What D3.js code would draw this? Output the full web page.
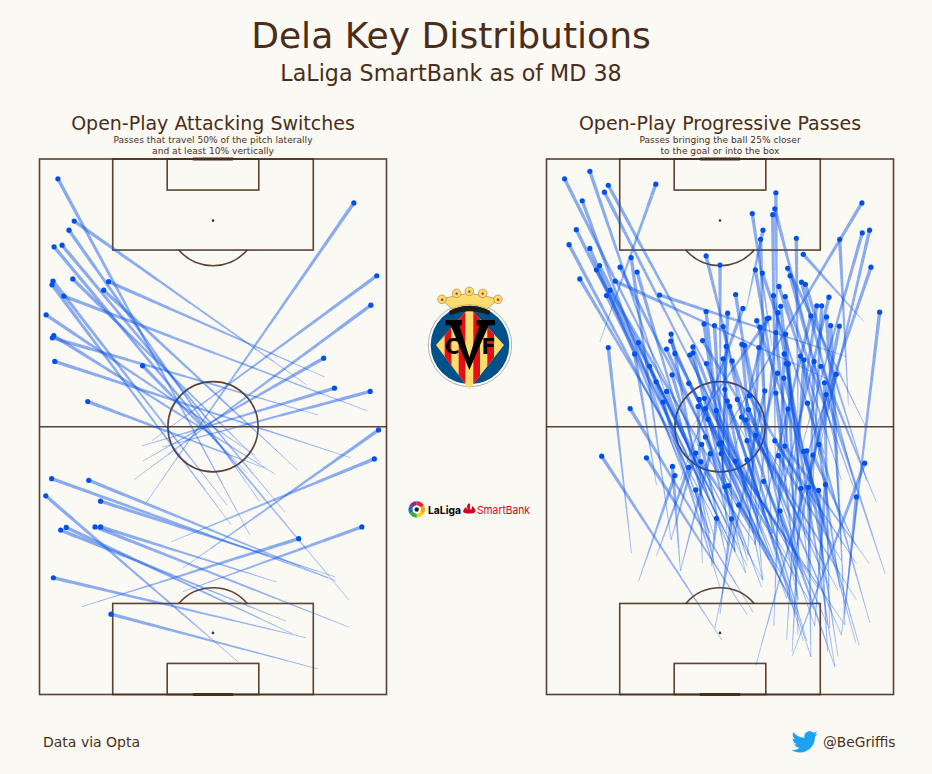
<!DOCTYPE html>
<html>
<head>
<meta charset="utf-8">
<script src="https://cdnjs.cloudflare.com/ajax/libs/d3/7.8.5/d3.min.js"></script>
<style>
html, body { margin: 0; padding: 0; background: #fbf9f4; }
svg { display: block; }
text { font-family: "DejaVu Sans", sans-serif; fill: #4a2e19; }
</style>
</head>
<body>
<svg id="svg"></svg>
<script>
// all passes are in Opta pitch units (0-100 across, 0-100 down from the top goal line)
// each row: dot x, dot y, tail x, tail y
var switchPasses = [
    [5.3,3.7,60.6,70.2],[10,11.6,77,42.2],[8.5,13.3,63.5,64],[4.2,16.4,89.1,82.3],[6.5,16.1,70.7,65.9],
    [3.9,22.8,54,64.6],[3.6,23.5,55.2,68.3],[9.6,22.4,63.8,56.8],[19.9,22.9,82.2,40.7],[18.5,24.5,74.4,58.1],
    [7,25.6,94.3,47],[1.9,29.1,62.1,55.3],[4.1,33,67.8,58.8],[3.7,33.4,80.2,47.8],[4.4,37.8,89.7,55.8],
    [29.7,38.6,59.8,58.6],[13.9,45.3,64.9,57.7],
    [90.6,8.2,30.7,64.2],[97.2,21.8,32.4,52.6],[95.5,27.3,27.2,59.9],[81.9,37.2,29.8,56.4],[85,42.8,29.5,53.6],
    [95.3,43.4,35.3,53.8],[97.7,50.6,41.3,76.4],[96.5,56,37.9,71.5],[92.9,68.7,41.3,80.8],[74.7,70.9,12.2,83.6],
    [3.5,59.7,83.1,78.2],[14.2,60,85.4,78.8],[17.6,63.9,85.1,78],[1.8,62.9,57.2,93.9],[6.1,69.3,71,86.3],
    [7.7,68.8,73,88.7],[16,68.7,89.1,87.4],[17.6,68.7,68.4,79],[4,78.2,76.8,89.4],[20.6,85,80.2,95.2]
];

var progressivePasses = [
    [5.2,3.7,44.9,55],[12.5,2.3,37,49],[17.8,4.9,62.3,58],[16.7,6.2,57.4,58],[10.3,7.8,40,60],
    [31.5,4.7,15.4,34.1],[8.6,13.2,54.3,73.3],[6.5,16,52.4,72.1],[12.5,16.7,47.1,69.9],[9.6,22.4,44,60],
    [15.3,19.9,57.8,76],[14.4,20.7,62.3,78.6],[21.2,20.2,64.2,74.9],[24.4,18.4,35.9,71.1],[26.1,21.1,48.5,71],
    [19.8,22.8,80.7,41],[18.3,24.5,59.6,70],[17.3,25.5,57.4,77.3],[32.6,25.4,86.5,36.9],[17.8,35.2,24.5,73.6],
    [26.5,34.3,47,62],[35.9,32.7,48.3,75.5],[35.8,34,52,57],[34.6,35.5,55,65],[42.2,35.1,62,68],
    [45,33.9,69.2,60],[46,18.1,58,50],[50,19.8,50.1,47],[54.5,25.3,63,60],[46,28.5,52,65],
    [52.2,28.8,50.5,62],[56.6,27.9,38.6,60],[45.4,30.8,54.3,73.3],[48.4,31.1,52,70],[50.9,31.3,62.3,66],
    [59.3,10.2,65,35],[62.4,13.3,57.6,27.9],[61.7,15,63,48],[60.2,20.7,70,58],[62.2,21.3,80,55],
    [66.1,6.3,66.5,40],[65.8,9.3,82,50],[65.2,10.4,66,60],[72,14.8,72.5,50],[69.5,20.4,92,50],
    [70.2,21.8,84,55],[67,23.8,85,60],[65.4,25.5,77,65],[68.8,25.7,90,64],[67.5,27.5,75,70],
    [66.7,28.7,60,72],[60.6,30.2,81.6,70],[61.5,31.4,65,70],[63.6,29.8,54,55],[64.1,29.7,42,50],
    [66.1,32.4,73,75],[68.9,32.7,75.4,77],[90.9,8.2,45,58],[91,13.8,73,55],[93.1,13.3,78,56],
    [84.5,15,87,46],[74,17.8,91.5,30.4],[93.5,20.2,70,65],[73.5,23,89.3,62],[74.6,23.4,92.2,60],
    [81.4,25.8,65,70],[77.9,27.4,70,62],[79.3,27.4,76,70],[76.2,29.3,60,72],[80.7,29.5,85,72],
    [81.9,31.1,86,87],[84.4,31.2,69.2,82],[96,28.6,85,88.9],[56.3,34.6,62.3,78.6],[57.1,34.8,72.5,82.3],
    [61.2,35.2,58,74],[51.8,35,50.5,60],
    [25.4,36.4,31.7,60.9],[37,36.3,60,66],[41.3,36.6,66,75],[42.2,36.2,57.4,77.3],[46.1,38.2,62,70],
    [50.9,37.3,54.3,73.3],[53.5,37.7,72,72],[68.5,36.4,65.5,87.2],[73.2,36.8,80,55],[74.2,37.5,69.2,89.8],
    [77.1,37.8,75.4,77],[79.1,38.7,95,64],[69.1,38.2,83.1,94.8],[69.7,38.3,72.5,88.9],[29.7,38.7,47.1,69.9],
    [36.2,40.3,47,64],[66.6,40,57.4,62],[68.4,40.9,89.1,90.3],[83.5,40.2,60.3,94.6],[31.6,41.6,55,72],
    [41,41.9,70,75],[51.4,43,62.3,78.6],[62.9,43.3,48.5,87.6],[66.1,43.7,72.5,82.3],[80.1,41.8,81.6,87.6],
    [80.6,44,97.6,77.5],[34.6,43.4,52.4,72.1],[33.6,45.4,50,80],[44,44.9,54.3,73.3],[45.5,44.7,74,77.7],
    [52.1,45.2,65,70],[55,44.9,77.3,87.2],[58.5,44.2,80,68],[75.2,45.6,93.2,86.6],[43.7,46.2,44.9,75.5],
    [45.8,46.6,64.2,74.9],[48.9,47,69.2,82],[52.8,46.2,76.2,93],[58.2,46.8,81.6,80],[69.6,46.7,66,72],
    [24.1,46.6,59.6,84.7],[56.2,48.2,89.3,82.3],[57.5,48.7,84,80.5],[46.5,48.6,60,70],[45.8,51.9,62,80],
    [60.3,51.6,85,88.9],[57.8,52.6,75,90],[65.8,52.6,89.3,75.5],[44.7,53.3,52,75],[50.5,53,86,87],
    [49.7,53.2,77,84],[68.7,53.6,93,75.5],[78.5,53.3,84.5,80],[74.1,54.6,90.1,90.8],[75,54.5,84,92.9],
    [76.8,55.3,89,72],[43,54.9,35.9,71.1],[47.2,55,38.6,76.9],[50.3,55,72,85],[15.9,55.5,50.5,89.8],
    [28.8,55.8,57.8,85.1],[44.5,56.5,60.3,72],[54.4,56.4,78,80],[57.8,56.2,74,90],[66.8,55.4,85,75],
    [91.7,56.8,70.8,92.8],[36.3,57.4,38.6,76.9],[41,57.6,31.7,74.1],[37,59.1,26.5,78.9],[43,61.8,48.3,75.5],
    [51.4,61.2,58,75],[52.4,61,70,80],[62.6,60.2,81,87],[73.3,61.5,70.8,92],[75.5,61.3,76.2,93],
    [78.4,61.9,81,92],[80.4,60.8,77.3,87.2],[89.3,63.1,86,85],[55.4,64.6,72,84],[67.3,65.7,83.1,94.8],
    [49,67.1,47.5,76],[53.3,67.2,50,85]
];

var pageTitle = "Dela Key Distributions";
var pageSubtitle = "LaLiga SmartBank as of MD 38";
var panelTitles = ["Open-Play Attacking Switches", "Open-Play Progressive Passes"];
var panelNotes = [
    ["Passes that travel 50% of the pitch laterally", "and at least 10% vertically"],
    ["Passes bringing the ball 25% closer", "to the goal or into the box"]
];

var w = 932, h = 774;
var ink = "#4a2e19", bg = "#fbf9f4", blue = "#0a55e8";
var pitchStroke = 1.6;

var svg = d3.select("#svg").attr("width", w).attr("height", h);
svg.append("rect").attr("width", w).attr("height", h).attr("fill", bg);

function label(sel, x, y, txt, size, anchor)
{
    return sel.append("text")
        .attr("x", x).attr("y", y)
        .attr("font-size", size)
        .attr("text-anchor", anchor || "middle")
        .text(txt);
}

label(svg, 451, 47.5, pageTitle, 36.1);
label(svg, 451, 80.5, pageSubtitle, 22.2);

function drawPitch(g, x, y)
{
    // box(...) takes pitch units, keeps the markings on the scales
    function box(x0, x1, y0, y1) {
        g.append("rect")
            .attr("x", x(x0)).attr("y", y(y0))
            .attr("width", x(x1) - x(x0)).attr("height", y(y1) - y(y0))
            .attr("fill", "none").attr("stroke", ink)
            .attr("stroke-width", pitchStroke).attr("stroke-opacity", 0.9);
    }
    box(0, 100, 0, 100);
    box(21.1, 78.9, 0, 17);
    box(21.1, 78.9, 83, 100);
    box(36.8, 63.2, 0, 5.8);
    box(36.8, 63.2, 94.2, 100);

    g.append("line")
        .attr("x1", x(0)).attr("x2", x(100))
        .attr("y1", y(50)).attr("y2", y(50))
        .attr("stroke", ink).attr("stroke-width", pitchStroke).attr("stroke-opacity", 0.9);

    var r = x(13) - x(0);
    g.append("circle")
        .attr("cx", x(50)).attr("cy", y(50)).attr("r", r)
        .attr("fill", "none").attr("stroke", ink).attr("stroke-width", pitchStroke).attr("stroke-opacity", 0.9);

    // penalty spots and the arcs outside the boxes
    var arc = d3.arc().innerRadius(r).outerRadius(r);
    var a = Math.acos((y(17) - y(11.5)) / r);
    [[11.5, Math.PI - a, Math.PI + a], [88.5, -a, a]].forEach(function(s) {
        g.append("circle")
            .attr("cx", x(50)).attr("cy", y(s[0])).attr("r", 1.3)
            .attr("fill", ink);
        g.append("path")
            .attr("transform", "translate(" + x(50) + "," + y(s[0]) + ")")
            .attr("d", arc({startAngle: s[1], endAngle: s[2]}))
            .attr("fill", "none").attr("stroke", ink).attr("stroke-width", pitchStroke).attr("stroke-opacity", 0.9);
    });

    // goals
    [0, 100].forEach(function(v) {
        g.append("line")
            .attr("x1", x(44.2)).attr("x2", x(55.8))
            .attr("y1", y(v)).attr("y2", y(v))
            .attr("stroke", ink).attr("stroke-width", 3);
    });
}

function drawPasses(g, passes, x, y)
{
    var nSeg = 14;
    var widthScale = d3.scaleLinear().domain([0, nSeg - 1]).range([0.8, 3.4]);
    var alphaScale = d3.scaleLinear().domain([0, nSeg - 1]).range([0.42, 0.48]);

    var comet = g.selectAll("g.pass").data(passes).enter().append("g").attr("class", "pass");

    comet.selectAll("line")
        .data(function(p) {
            // tail to dot, thin and faint at the tail
            return d3.range(nSeg).map(function(i) {
                return {i: i, p: p};
            });
        })
        .enter().append("line")
        .attr("x1", function(d) { return x(d.p[2] + (d.p[0] - d.p[2]) * d.i / nSeg); })
        .attr("y1", function(d) { return y(d.p[3] + (d.p[1] - d.p[3]) * d.i / nSeg); })
        .attr("x2", function(d) { return x(d.p[2] + (d.p[0] - d.p[2]) * (d.i + 1) / nSeg); })
        .attr("y2", function(d) { return y(d.p[3] + (d.p[1] - d.p[3]) * (d.i + 1) / nSeg); })
        .attr("stroke", blue)
        .attr("stroke-width", function(d) { return widthScale(d.i); })
        .attr("stroke-opacity", function(d) { return alphaScale(d.i); });

    g.selectAll("circle.dot").data(passes).enter().append("circle")
        .attr("class", "dot")
        .attr("cx", function(p) { return x(p[0]); })
        .attr("cy", function(p) { return y(p[1]); })
        .attr("r", 2.6)
        .attr("fill", "#0050ec");
}

var panelLefts = [39.5, 546.5];
[switchPasses, progressivePasses].forEach(function(passes, i) {
    var left = panelLefts[i];
    var x = d3.scaleLinear().domain([0, 100]).range([left, left + 347]);
    var y = d3.scaleLinear().domain([0, 100]).range([159, 694.5]);
    var g = svg.append("g");
    drawPitch(g, x, y);
    drawPasses(g, passes, x, y);
    label(g, left + 173.5, 130, panelTitles[i], 19);
    label(g, left + 173.5, 143, panelNotes[i][0], 9.1);
    label(g, left + 173.5, 153.5, panelNotes[i][1], 9.1);
});

// footer
label(svg, 43, 747, "Data via Opta", 14, "start");
label(svg, 823, 747, "@BeGriffis", 13.8, "start");
svg.append("path")
    .attr("transform", "translate(790.5,728) scale(1.15)")
    .attr("fill", "#1da1f2")
    .attr("d", "M23.643 4.937c-.835.37-1.732.62-2.675.727.962-.576 1.7-1.49 2.048-2.578-.9.534-1.897.922-2.958 1.13-.85-.904-2.06-1.47-3.4-1.47-2.572 0-4.658 2.086-4.658 4.66 0 .364.042.718.12 1.06-3.873-.195-7.304-2.05-9.602-4.868-.4.69-.63 1.49-.63 2.342 0 1.616.823 3.043 2.072 3.878-.764-.025-1.482-.234-2.11-.583v.06c0 2.257 1.605 4.14 3.737 4.568-.392.106-.803.162-1.227.162-.3 0-.593-.028-.877-.082.593 1.85 2.313 3.198 4.352 3.234-1.595 1.25-3.604 1.995-5.786 1.995-.376 0-.747-.022-1.112-.065 2.062 1.323 4.51 2.093 7.14 2.093 8.57 0 13.255-7.098 13.255-13.254 0-.2-.005-.402-.014-.602.91-.658 1.7-1.477 2.323-2.41z");

// club crest, drawn in a 3x box then shrunk
var crest = svg.append("g").attr("transform", "translate(400,270) scale(0.3333)");
crest.append("circle").attr("cx", 210).attr("cy", 225).attr("r", 125).attr("fill", "#fff").attr("stroke", "#888").attr("stroke-width", 2);
crest.append("circle").attr("cx", 210).attr("cy", 225).attr("r", 118).attr("fill", "#00508a");
crest.append("clipPath").attr("id", "diamond").append("polygon").attr("points", "208,112 312,225 208,358 108,225");
crest.append("polygon").attr("points", "208,112 312,225 208,358 108,225").attr("fill", "#fbdc6e");
var stripes = crest.append("g").attr("clip-path", "url(#diamond)");
[134, 176, 220, 262].forEach(function(sx) {
    stripes.append("rect").attr("x", sx).attr("y", 100).attr("width", 20).attr("height", 270).attr("fill", "#e30f17");
});
crest.append("path").attr("d", "M137,150H186V166H178L208,262L238,166H230V150H285V166H266L208,300L152,166H137Z").attr("fill", "#000");
crest.append("text").attr("x", 156).attr("y", 252).attr("text-anchor", "middle").attr("font-size", 62).attr("font-weight", "bold").style("fill", "#000").text("C");
crest.append("text").attr("x", 266).attr("y", 252).attr("text-anchor", "middle").attr("font-size", 62).attr("font-weight", "bold").style("fill", "#000").text("F");
crest.append("path").attr("d", "M148,122Q208,92 270,122L268,136Q208,112 150,136Z").attr("fill", "#1c1a12");
crest.append("path").attr("d", "M122,88L170,76L208,70L248,76L296,88L262,116Q208,92 156,116Z").attr("fill", "#fbdc6e").attr("stroke", "#8a6d2a").attr("stroke-width", 1.5);
[[126, 88], [170, 70], [208, 64], [248, 70], [294, 88]].forEach(function(c) {
    crest.append("circle").attr("cx", c[0]).attr("cy", c[1]).attr("r", 13).attr("fill", "#fbdc6e").attr("stroke", "#8a6d2a").attr("stroke-width", 1.5);
    crest.append("circle").attr("cx", c[0]).attr("cy", c[1] + 1).attr("r", 3.5).attr("fill", "#e30f17");
});

// league logo
var ringColours = ["#e6262e", "#f7a11a", "#fcd116", "#36a83c", "#1f6fc4", "#8a2f8f"];
var ringPie = d3.pie().value(1).sort(null)(ringColours);
var ring = svg.append("g").attr("transform", "translate(416.7,509.5)");
ring.selectAll("path").data(ringPie).enter().append("path")
    .attr("d", d3.arc().innerRadius(4).outerRadius(8.2))
    .attr("fill", function(d) { return d.data; });
ring.append("circle").attr("r", 4).attr("fill", "#fff");
ring.append("circle").attr("r", 2.2).attr("fill", "#222");
svg.append("text").attr("x", 428).attr("y", 513.5).attr("font-size", 11).attr("font-weight", "bold")
    .attr("textLength", 33).attr("lengthAdjust", "spacingAndGlyphs")
    .style("font-family", "Inter").style("fill", "#000").text("LaLiga");
svg.append("path").attr("transform", "translate(463,503)")
    .attr("d", "M6,0C9,3 5,4 8,7C9,5 9,4 9,3C12,5 13,8 12,9C10,11 3,11 0,9C0,7 2,5 3,4C4,6 4,7 5,7C4,5 3,3 6,0Z")
    .attr("fill", "#d8001c");
svg.append("text").attr("x", 477).attr("y", 513.5).attr("font-size", 11)
    .attr("textLength", 53).attr("lengthAdjust", "spacingAndGlyphs")
    .style("font-family", "Inter").style("fill", "#d8001c").text("SmartBank");
</script>
</body>
</html>
